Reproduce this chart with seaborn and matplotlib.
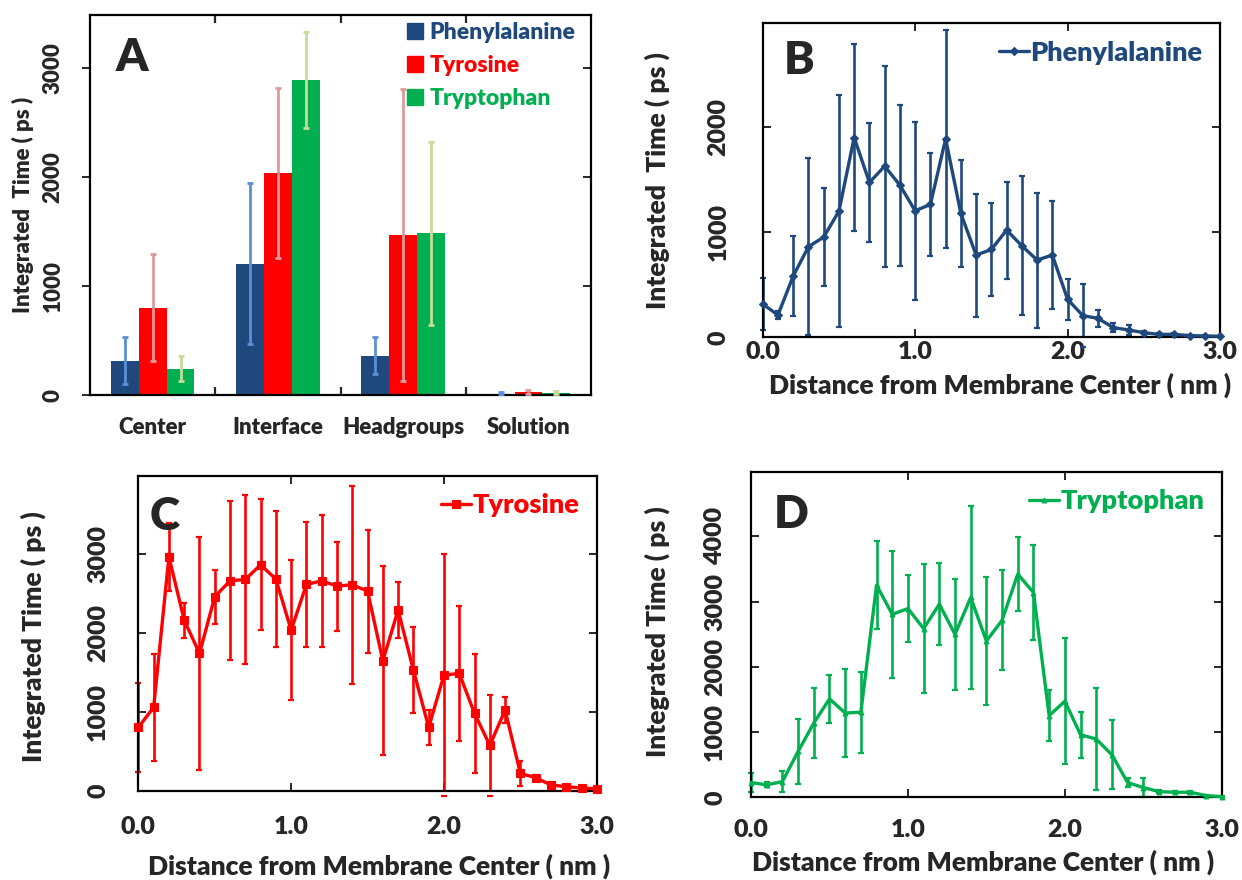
import numpy as np
import pandas as pd
import matplotlib
matplotlib.use("Agg")
import matplotlib.pyplot as plt
import seaborn as sns
from matplotlib.lines import Line2D
from matplotlib.ticker import FixedLocator

# ---------------- Panel A: integrated time per membrane region ----------------
regions = ["Center", "Interface", "Headgroups", "Solution"]
residues = ["Phenylalanine", "Tyrosine", "Tryptophan"]

phe_region = [316, 1205, 362, 12]
phe_region_err = [215, 740, 170, 12]
tyr_region = [803, 2042, 1469, 28]
tyr_region_err = [490, 780, 1340, 15]
trp_region = [242, 2892, 1487, 22]
trp_region_err = [115, 440, 840, 15]

# ---------------- Panels B-D: profiles along the membrane normal ----------------
distance = [0.0, 0.1, 0.2, 0.3, 0.4, 0.5, 0.6, 0.7, 0.8, 0.9, 1.0,
            1.1, 1.2, 1.3, 1.4, 1.5, 1.6, 1.7, 1.8, 1.9, 2.0,
            2.1, 2.2, 2.3, 2.4, 2.5, 2.6, 2.7, 2.8, 2.9, 3.0]

phe_time = [316, 212, 582, 861, 953, 1199, 1899, 1472, 1627, 1446, 1203,
            1263, 1886, 1177, 782, 835, 1019, 870, 734, 782, 361,
            206, 180, 92, 70, 44, 28, 28, 16, 13, 10]
phe_err = [250, 40, 380, 840, 470, 1100, 885, 570, 957, 767, 846,
           490, 1040, 510, 585, 443, 462, 660, 642, 510, 196,
           300, 84, 46, 50, 15, 10, 10, 5, 5, 3]

tyr_time = [802, 1055, 2962, 2160, 1738, 2456, 2658, 2675, 2861, 2679, 2034,
            2612, 2658, 2591, 2608, 2527, 1646, 2287, 1527, 802, 1464,
            1485, 979, 574, 1021, 219, 165, 72, 51, 34, 25]
tyr_err = [563, 680, 430, 222, 1475, 342, 1006, 1065, 827, 863, 890,
           787, 836, 563, 1255, 780, 1200, 350, 540, 220, 1536,
           855, 750, 637, 170, 157, 30, 10, 8, 5, 5]

trp_time = [226, 190, 241, 703, 1138, 1508, 1292, 1303, 3251, 2805, 2892,
            2585, 2959, 2497, 3062, 2395, 2713, 3421, 3138, 1251, 1472,
            959, 892, 651, 226, 149, 87, 77, 77, 26, 10]
trp_err = [140, 40, 160, 500, 540, 372, 680, 620, 672, 977, 510,
           987, 630, 855, 1405, 975, 770, 570, 733, 393, 967,
           354, 782, 528, 70, 140, 25, 15, 20, 8, 5]

PHE_C, TYR_C, TRP_C = "#1F497D", "#FF0000", "#00B050"
bar_colors = [PHE_C, TYR_C, TRP_C]
bar_err_colors = ["#5B8FD8", "#DE9A9A", "#C6DB9C"]

WEIGHT = "heavy"

sns.set_style("white")
plt.rcParams["font.family"] = ["Lato", "DejaVu Sans"]
plt.rcParams["font.weight"] = WEIGHT
plt.rcParams["axes.labelweight"] = WEIGHT
plt.rcParams["axes.linewidth"] = 1.6
plt.rcParams["axes.edgecolor"] = "black"

LETTER_FS = 33

fig = plt.figure(figsize=(12.42, 8.8), dpi=100)
axA = fig.add_axes([0.0725, 0.5511, 0.4034, 0.4318])
axB = fig.add_axes([0.6141, 0.6167, 0.3682, 0.3568])
axC = fig.add_axes([0.1114, 0.1015, 0.3691, 0.3580])
axD = fig.add_axes([0.6047, 0.0940, 0.3790, 0.3700])


def style_y(ax, ticks, ymax, pad, size, direction="in"):
    ax.set_ylim(0, ymax)
    ax.set_yticks(ticks)
    ax.set_yticklabels([str(t) for t in ticks])
    ax.tick_params(axis="y", which="major", direction=direction, length=6,
                   width=1.4, labelsize=size, pad=pad, labelrotation=90,
                   right=True, left=True)
    for lab in ax.get_yticklabels():
        lab.set_va("center")
        lab.set_fontweight(WEIGHT)


# ---------------- Panel A ----------------
df_a = pd.DataFrame({
    "region": regions * 3,
    "residue": np.repeat(residues, len(regions)),
    "time": phe_region + tyr_region + trp_region,
    "err": phe_region_err + tyr_region_err + trp_region_err,
})
sns.barplot(data=df_a, x="region", y="time", hue="residue", order=regions,
            hue_order=residues, palette=bar_colors, saturation=1, width=0.667,
            errorbar=None, linewidth=0, legend=False, ax=axA)

for cont, res, ecol in zip(axA.containers, residues, bar_err_colors):
    sub = df_a[df_a["residue"] == res].set_index("region").loc[regions]
    xs = [p.get_x() + p.get_width() / 2 for p in cont.patches]
    ys = [p.get_height() for p in cont.patches]
    axA.errorbar(xs, ys, yerr=sub["err"].values, fmt="none", ecolor=ecol,
                 elinewidth=2.0, capsize=2.2, capthick=2.0, zorder=3)

axA.set_xlim(-0.5, 3.5)
axA.set_xlabel("")
axA.set_ylabel("Integrated  Time ( ps )", fontsize=16, fontweight=WEIGHT, va="center")
axA.yaxis.set_label_coords(-0.134, 0.5)
style_y(axA, [0, 1000, 2000, 3000], 3490, pad=13, size=16, direction="out")
axA.tick_params(axis="y", which="major", right=False)
# region separators on the top and bottom spines
axA.xaxis.set_minor_locator(FixedLocator([0.5, 1.5, 2.5]))
axA.tick_params(axis="x", which="minor", direction="in", length=6, width=1.6,
                top=True, bottom=True)
axA.tick_params(axis="x", which="major", length=0, labelsize=16, pad=16)
for lab in axA.get_xticklabels():
    lab.set_fontweight(WEIGHT)
# right-hand ticks pointing inward
axA_r = axA.secondary_yaxis("right")
axA_r.set_yticks([1000, 2000, 3000])
axA_r.tick_params(direction="in", length=6, width=1.4, labelright=False)
axA_r.spines["right"].set_visible(False)

handles = [Line2D([], [], marker="s", ls="none", color=c, markersize=11) for c in bar_colors]
legA = axA.legend(handles, residues, loc="upper right", frameon=False,
                  bbox_to_anchor=(1.01, 1.035), handlelength=0.7, handletextpad=0.3,
                  labelspacing=0.52, prop={"size": 16.5, "weight": WEIGHT})
for txt, c in zip(legA.get_texts(), bar_colors):
    txt.set_color(c)
axA.text(0.084, 0.889, "A", transform=axA.transAxes, fontsize=LETTER_FS,
         fontweight=WEIGHT, ha="center", va="center")


# ---------------- Panels B-D ----------------
def profile(ax, values, errs, name, color, marker, msize, ymax, yticks,
            ypad, xpad, letter, letter_xy, ylabel, ylab_xy, xlab_xy):
    df = pd.DataFrame({"distance": distance, "time": values, "err": errs})
    ax.errorbar(df["distance"], df["time"], yerr=df["err"], fmt="none",
                ecolor=color, elinewidth=1.9, capsize=2.4, capthick=1.6, zorder=2)
    sns.lineplot(data=df, x="distance", y="time", ax=ax, color=color,
                 linewidth=2.4, marker=marker, markersize=msize,
                 markeredgewidth=0.8, markeredgecolor=color, label=name,
                 zorder=3)
    for ln in ax.lines:
        ln.set_clip_on(False)
    ax.set_xlim(0, 3.0)
    ax.set_xticks([0, 1, 2, 3])
    ax.set_xticklabels(["0.0", "1.0", "2.0", "3.0"])
    ax.tick_params(axis="x", direction="in", length=6, width=1.4,
                   labelsize=18, pad=xpad, top=True, bottom=True)
    for lab in ax.get_xticklabels():
        lab.set_fontweight(WEIGHT)
    style_y(ax, yticks, ymax, pad=ypad, size=18, direction="in")
    ax.set_xlabel("Distance from Membrane Center ( nm )", fontsize=19,
                  fontweight=WEIGHT, va="center")
    ax.xaxis.set_label_coords(*xlab_xy)
    ax.set_ylabel(ylabel, fontsize=19, fontweight=WEIGHT, va="center")
    ax.yaxis.set_label_coords(*ylab_xy)
    leg = ax.legend(loc="upper right", frameon=False, handlelength=1.1,
                    handletextpad=0.05, borderaxespad=0.25,
                    prop={"size": 19.5, "weight": WEIGHT})
    for txt in leg.get_texts():
        txt.set_color(color)
    ax.text(*letter_xy, letter, transform=ax.transAxes, fontsize=LETTER_FS,
            fontweight=WEIGHT, ha="center", va="center")
    for sp in ax.spines.values():
        sp.set_linewidth(1.6)


profile(axB, phe_time, phe_err, "Phenylalanine", PHE_C, "D", 4.0,
        2985, [0, 1000, 2000], ypad=24, xpad=3.0, letter="B",
        letter_xy=(0.079, 0.883), ylabel="Integrated  Time ( ps )",
        ylab_xy=(-0.231, 0.5), xlab_xy=(0.519, -0.152))
profile(axC, tyr_time, tyr_err, "Tyrosine", TYR_C, "s", 5.5,
        3990, [0, 1000, 2000, 3000], ypad=21, xpad=18.5, letter="C",
        letter_xy=(0.058, 0.869), ylabel="Integrated Time ( ps )",
        ylab_xy=(-0.23, 0.49), xlab_xy=(0.525, -0.239))
profile(axD, trp_time, trp_err, "Tryptophan", TRP_C, "^", 3.5,
        4990, [0, 1000, 2000, 3000, 4000], ypad=18, xpad=15.5, letter="D",
        letter_xy=(0.085, 0.870), ylabel="Integrated Time ( ps )",
        ylab_xy=(-0.2, 0.508), xlab_xy=(0.493, -0.199))

fig.savefig("out.png", dpi=100, facecolor="white")
